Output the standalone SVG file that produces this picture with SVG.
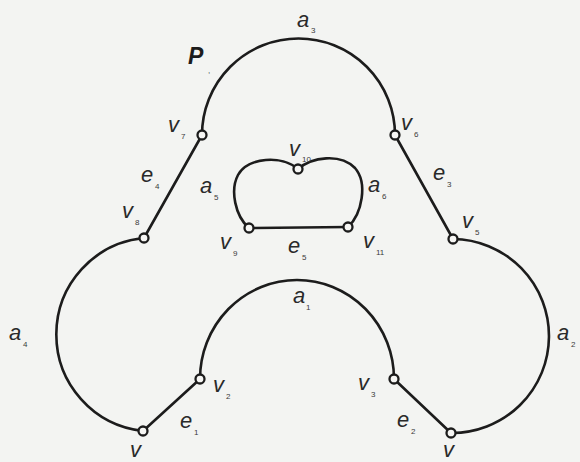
<svg xmlns="http://www.w3.org/2000/svg" width="580" height="462" viewBox="0 0 580 462">
<style>
.ln{fill:none;stroke:#1c1c1c;stroke-width:2.6;stroke-linecap:round}
.vx{fill:#f6f6f4;stroke:#1c1c1c;stroke-width:2.3}
.lb{font-family:"Liberation Sans",Arial,sans-serif;font-style:italic;font-size:22px;fill:#2a2a2a}
.sb{font-family:"Liberation Sans",Arial,sans-serif;font-size:8px;fill:#3a3a3a}
.pb{font-family:"Liberation Sans",Arial,sans-serif;font-style:italic;font-weight:bold;font-size:23px;fill:#1c1c1c}
</style>
<rect width="580" height="462" fill="#f3f4f2"/>
<g id="connectors">
<path class="ln" d="M202,135 A96.5,96.5 0 0 1 395,135"/>
<path class="ln" d="M202,135 L144,238"/>
<path class="ln" d="M395,135 L453,239"/>
<path class="ln" d="M144,238 A97,97 0 0 0 143,431"/>
<path class="ln" d="M453,239 A97,97 0 0 1 451,433"/>
<path class="ln" d="M143,431 L200,379"/>
<path class="ln" d="M394,379 L451,433"/>
<path class="ln" d="M200,379 A97,99 0 0 1 394,379"/>
<path class="ln" d="M249,228 C235,216 230,190 238,175 C248,157 282,155 298,169"/>
<path class="ln" d="M298,169 C312,157 340,153 355,168 C368,183 362,214 348,227"/>
<path class="ln" d="M249,228 L348,227"/>
</g>
<g id="P"><text class="pb" x="188" y="64">P</text><text class="sb" x="208" y="73">,</text></g>
<g id="a3"><text class="lb" x="297" y="27">a</text><text class="sb" x="311" y="33">3</text></g>
<g id="a1"><text class="lb" x="293" y="303">a</text><text class="sb" x="306" y="310">1</text></g>
<g id="a2"><text class="lb" x="557" y="340">a</text><text class="sb" x="571" y="347">2</text></g>
<g id="a4"><text class="lb" x="9" y="340">a</text><text class="sb" x="23" y="347">4</text></g>
<g id="a5"><text class="lb" x="200" y="193">a</text><text class="sb" x="214" y="200">5</text></g>
<g id="a6"><text class="lb" x="368" y="192">a</text><text class="sb" x="382" y="199">6</text></g>
<g id="e1"><text class="lb" x="180" y="428">e</text><text class="sb" x="194" y="435">1</text></g>
<g id="e2"><text class="lb" x="397" y="427">e</text><text class="sb" x="411" y="434">2</text></g>
<g id="e3"><text class="lb" x="433" y="180">e</text><text class="sb" x="447" y="187">3</text></g>
<g id="e4"><text class="lb" x="141" y="182">e</text><text class="sb" x="155" y="189">4</text></g>
<g id="e5"><text class="lb" x="288" y="253">e</text><text class="sb" x="302" y="260">5</text></g>
<g id="v1"><circle class="vx" cx="143" cy="431" r="4.5"/><text class="lb" x="130" y="457">v</text></g>
<g id="v2"><circle class="vx" cx="200" cy="379" r="4.5"/><text class="lb" x="213" y="392">v</text><text class="sb" x="226" y="399">2</text></g>
<g id="v3"><circle class="vx" cx="394" cy="379" r="4.5"/><text class="lb" x="358" y="390">v</text><text class="sb" x="371" y="397">3</text></g>
<g id="v4"><circle class="vx" cx="451" cy="433" r="4.5"/><text class="lb" x="443" y="457">v</text></g>
<g id="v5"><circle class="vx" cx="453" cy="239" r="4.5"/><text class="lb" x="462" y="228">v</text><text class="sb" x="475" y="235">5</text></g>
<g id="v6"><circle class="vx" cx="395" cy="135" r="4.5"/><text class="lb" x="401" y="130">v</text><text class="sb" x="414" y="137">6</text></g>
<g id="v7"><circle class="vx" cx="202" cy="135" r="4.5"/><text class="lb" x="168" y="132">v</text><text class="sb" x="181" y="139">7</text></g>
<g id="v8"><circle class="vx" cx="144" cy="238" r="4.5"/><text class="lb" x="122" y="218">v</text><text class="sb" x="135" y="225">8</text></g>
<g id="v9"><circle class="vx" cx="249" cy="228" r="4.5"/><text class="lb" x="220" y="249">v</text><text class="sb" x="233" y="256">9</text></g>
<g id="v10"><circle class="vx" cx="298" cy="169" r="4.5"/><text class="lb" x="289" y="156">v</text><text class="sb" x="302" y="162">10</text></g>
<g id="v11"><circle class="vx" cx="348" cy="227" r="4.5"/><text class="lb" x="363" y="248">v</text><text class="sb" x="376" y="255">11</text></g>
</svg>
